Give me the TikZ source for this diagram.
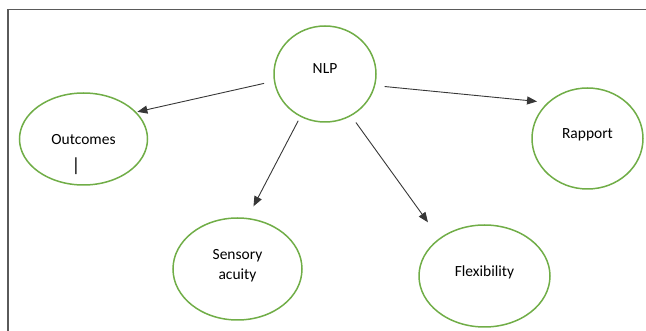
\documentclass[tikz,border=0pt]{standalone}
\usepackage{fontspec}
\setmainfont{Carlito}
\usetikzlibrary{shapes.geometric,arrows.meta}
\definecolor{bubblegreen}{RGB}{112,173,71}
\definecolor{framegray}{RGB}{90,90,90}
\definecolor{arrowgray}{RGB}{55,55,55}
\begin{document}
\begin{tikzpicture}[
        x=1pt, y=-1pt,
        font=\fontsize{15.5}{20}\selectfont,
        bubble/.style={
            draw=bubblegreen, ellipse, line width=1.5pt, inner sep=0pt,
            align=center, text depth=10pt
        },
        link/.style={
            draw=arrowgray, line width=0.9pt, -{Triangle[length=10pt,width=8pt]}
        }
    ]
    \useasboundingbox (0,0) rectangle (646,331);
    \draw[framegray, line width=1.5pt] (646,9.5) -- (8,9.5) -- (8,331);

    \node[bubble, minimum width=102pt, minimum height=96pt] (NLP) at (325,74) {NLP};
    \node[bubble, minimum width=128pt, minimum height=92pt, text depth=0pt] (Outcomes) at (83.5,139) {Outcomes};
    \node[bubble, minimum width=129pt, minimum height=102pt] (Sensory) at (237.5,269) {Sensory\\acuity};
    \node[bubble, minimum width=131pt, minimum height=102pt] (Flexibility) at (484.5,276) {Flexibility};
    \node[bubble, minimum width=111pt, minimum height=101pt] (Rapport) at (587.5,138.5) {Rapport};
    \node[font=\fontsize{19}{20}\selectfont] (cursor) at (76,166) {|};

    % arrows
    \draw[link, shorten <=10pt, shorten >=1pt] (NLP.188) -- (Outcomes.27);
    \draw[link, shorten <=9.5pt, shorten >=10.5pt] (NLP.347) -- (Rapport.138);
    \draw[link, shorten <=4.5pt, shorten >=13pt] (NLP.240) -- (Sensory.79);
    \draw[link, shorten <=8pt, shorten >=19.5pt] (NLP.302) -- (Flexibility.140);
\end{tikzpicture}
\end{document}
